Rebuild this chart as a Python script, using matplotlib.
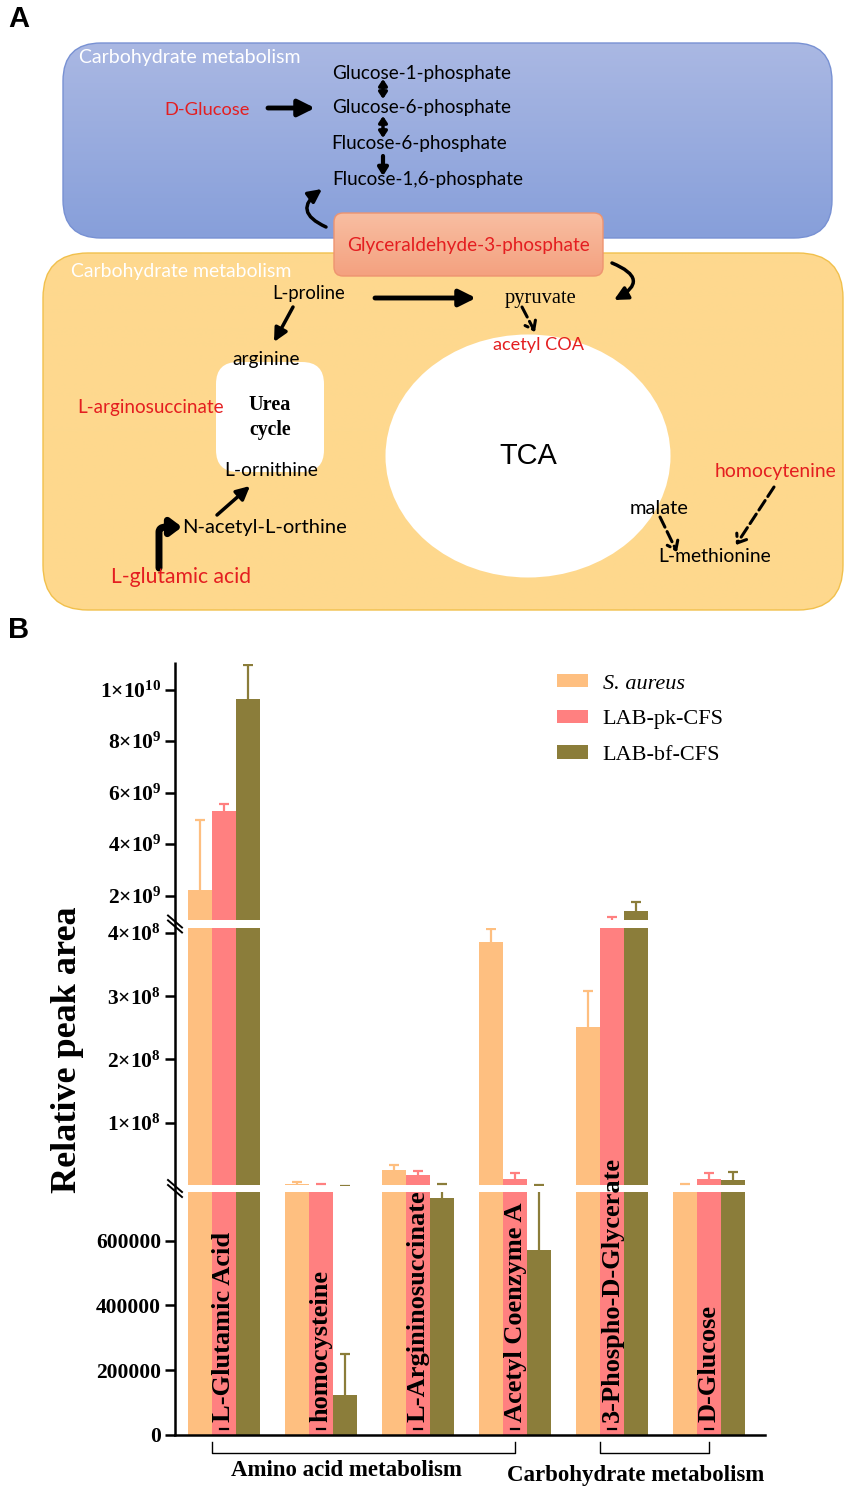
import numpy as np
import matplotlib
matplotlib.use("Agg")
import matplotlib.pyplot as plt
import matplotlib.transforms as mtransforms
from matplotlib.patches import FancyBboxPatch, Ellipse, FancyArrowPatch, Patch
from matplotlib.path import Path
from matplotlib.colors import to_rgb

W, H, DPI = 851, 1493, 100

# === Panel B data ===
categories = ["L-Glutamic Acid", "homocysteine", "L-Argininosuccinate",
              "Acetyl Coenzyme A", "3-Phospho-D-Glycerate", "D-Glucose"]
series_names = ["S. aureus", "LAB-pk-CFS", "LAB-bf-CFS"]
s_aureus = [2.23e9, 3.5e6, 2.43e7, 3.86e8, 2.52e8, 1.2e6]
s_aureus_err = [2.7e9, 2.5e6, 0.8e7, 0.2e8, 0.56e8, 0.9e6]
lab_pk = [5.29e9, 1.0e6, 1.7e7, 1.1e7, 8.0e8, 1.1e7]
lab_pk_err = [0.27e9, 1.2e6, 0.7e7, 1.0e7, 3.5e8, 0.95e7]
lab_bf = [9.65e9, 1.25e5, 7.3e5, 5.7e5, 1.4e9, 9.5e6]
lab_bf_err = [1.33e9, 1.25e5, 1.37e6, 1.5e6, 0.35e9, 1.2e7]

pathways = ["Amino acid metabolism", "Carbohydrate metabolism"]
pathway_first = [0, 4]
pathway_last = [3, 5]

top_ticks = [2e9, 4e9, 6e9, 8e9, 1e10]
top_labels = [r"$\mathbf{2{\times}10^{9}}$", r"$\mathbf{4{\times}10^{9}}$", r"$\mathbf{6{\times}10^{9}}$",
              r"$\mathbf{8{\times}10^{9}}$", r"$\mathbf{1{\times}10^{10}}$"]
mid_ticks = [1e8, 2e8, 3e8, 4e8]
mid_labels = [r"$\mathbf{1{\times}10^{8}}$", r"$\mathbf{2{\times}10^{8}}$",
              r"$\mathbf{3{\times}10^{8}}$", r"$\mathbf{4{\times}10^{8}}$"]
bot_ticks = [0, 200000, 400000, 600000]
bot_labels = ["0", "200000", "400000", "600000"]

colors = ["#FEBF80", "#FF8080", "#8B7D3A"]
series = [s_aureus, lab_pk, lab_bf]
errors = [s_aureus_err, lab_pk_err, lab_bf_err]

SERIF = "Liberation Serif"
SANS = "Lato"
RED = "#E41E20"

plt.rcParams["mathtext.fontset"] = "custom"
plt.rcParams["mathtext.bf"] = "Liberation Serif:bold"
plt.rcParams["mathtext.rm"] = "Liberation Serif:bold"

fig = plt.figure(figsize=(W / DPI, H / DPI), dpi=DPI, facecolor="white")
renderer = fig.canvas.get_renderer()

# === Panel A: pathway sketch, drawn in pixel coordinates ===
axA = fig.add_axes([0, 0, 1, 1], zorder=0)
axA.axis("off")


def box(x0, y0, x1, y1, r, top, bottom, edge, z):
    p = FancyBboxPatch((x0, y0), x1 - x0, y1 - y0,
                       boxstyle=f"round,pad=0,rounding_size={r}",
                       fc="none", ec=edge, lw=1.0, zorder=z + 0.5)
    axA.add_patch(p)
    t = np.linspace(0, 1, 100)[:, None, None]
    img = (1 - t) * np.array(to_rgb(top)) + t * np.array(to_rgb(bottom))
    img = np.repeat(img, 2, axis=1)
    im = axA.imshow(img, extent=(x0, x1, y1, y0), aspect="auto", zorder=z,
                    interpolation="bilinear")
    im.set_clip_path(p)


def fit_text(x0, x1, cy, s, color="black", family=SANS, weight="normal", z=6):
    t = axA.text((x0 + x1) / 2, cy, s, color=color, family=family, weight=weight,
                 fontsize=12, ha="center", va="center", zorder=z)
    w = t.get_window_extent(renderer).width
    t.set_fontsize(12 * (x1 - x0) / w)
    return t


def arrow(p0, p1, lw=2.0, style="-|>,head_length=0.5,head_width=0.25", ms=18, ls="-", rad=None, z=5):
    kw = dict(arrowstyle=style, mutation_scale=ms, lw=lw, color="black",
              linestyle=ls, shrinkA=0, shrinkB=0, zorder=z)
    if rad is not None:
        kw["connectionstyle"] = f"arc3,rad={rad}"
    axA.add_patch(FancyArrowPatch(p0, p1, **kw))


box(63, 43, 832, 238, 38, "#AAB8E3", "#879FDA", "#7891D3", 1)
box(43, 253, 843, 610, 45, "#FED98F", "#FED88D", "#F1C04C", 1)
box(334, 213, 603, 276, 9, "#F8BEA2", "#F4A17F", "#EE9470", 3)
axA.add_patch(FancyBboxPatch((216, 362), 108, 110, boxstyle="round,pad=0,rounding_size=22",
                             fc="white", ec="none", zorder=2))
axA.add_patch(Ellipse((528, 456), 285, 243, fc="white", ec="none", zorder=2))

fit_text(80, 300, 57, "Carbohydrate metabolism", color="white")
fit_text(332, 511, 73, "Glucose-1-phosphate")
fit_text(332, 511, 108, "Glucose-6-phosphate")
fit_text(332, 507, 144, "Flucose-6-phosphate")
fit_text(332, 523, 179, "Flucose-1,6-phosphate")
fit_text(165, 250, 110, "D-Glucose", color=RED)
fit_text(347, 589, 245, "Glyceraldehyde-3-phosphate", color=RED)
fit_text(72, 291, 272, "Carbohydrate metabolism", color="white")
fit_text(272, 345, 294, "L-proline")
fit_text(505, 577, 298, "pyruvate", family=SERIF)
fit_text(493, 584, 345, "acetyl COA", color=RED)
fit_text(233, 300, 359, "arginine")
fit_text(249, 291, 405, "Urea", family=SERIF, weight="bold")
fit_text(249, 291, 430, "cycle", family=SERIF, weight="bold")
fit_text(78, 224, 408, "L-arginosuccinate", color=RED)
fit_text(225, 318, 471, "L-ornithine")
fit_text(499, 557, 456, "TCA", family="Liberation Sans")
fit_text(714, 836, 471, "homocytenine", color=RED)
fit_text(630, 689, 508, "malate")
fit_text(182, 346, 527, "N-acetyl-L-orthine")
fit_text(659, 771, 557, "L-methionine")
fit_text(111, 251, 577, "L-glutamic acid", color=RED)

arrow((268, 108), (315, 108), lw=3.5, ms=20)
arrow((383, 79), (383, 99), lw=2.5, style="<|-|>,head_length=0.3,head_width=0.2", ms=12)
arrow((383, 116), (383, 138), lw=2.5, style="<|-|>,head_length=0.3,head_width=0.2", ms=12)
arrow((383, 156), (383, 176), lw=3.0, style="-|>,head_length=0.35,head_width=0.22", ms=13)
arrow((326, 227), (322, 189), lw=2.5, rad=-0.85, ms=16)
arrow((612, 263), (614, 300), lw=2.5, rad=-1.05, ms=16)
arrow((375, 298), (476, 298), lw=3.5, ms=20)
arrow((293, 307), (274, 342), lw=2.5, ms=16)
arrow((522, 307), (535, 332), lw=2.2, ls="--", style="->,head_length=0.4,head_width=0.3", ms=14)
arrow((217, 515), (250, 486), lw=2.5, ms=16)
arrow((660, 517), (677, 552), lw=2.2, ls="--", style="->,head_length=0.4,head_width=0.3", ms=14)
arrow((774, 487), (736, 545), lw=2.2, ls="--", style="->,head_length=0.4,head_width=0.3", ms=14)
bent = Path([(159, 568), (159, 532), (159, 527), (166, 527), (182, 527)],
            [Path.MOVETO, Path.LINETO, Path.CURVE3, Path.CURVE3, Path.LINETO])
axA.add_patch(FancyArrowPatch(path=bent, arrowstyle="-|>,head_length=0.4,head_width=0.3",
                              mutation_scale=16, lw=5, color="black", zorder=5))

axA.text(8, 19, "A", family="Liberation Sans", weight="bold", fontsize=21, ha="left", va="center")
axA.text(8, 630, "B", family="Liberation Sans", weight="bold", fontsize=21, ha="left", va="center")

# === Panel B: broken-axis bar chart ===
L, R = 175, 765
seg_specs = [(664, 920, (1.05e9, 1.1e10), top_ticks, top_labels),
             (928, 1185, (1.3e6, 4.08e8), mid_ticks, mid_labels),
             (1192, 1435, (0, 7.5e5), bot_ticks, bot_labels)]
x = np.arange(len(categories))
offsets = [-0.25, 0.0, 0.25]
seg_axes = []
for top, bot, lim, ticks, labels in seg_specs:
    ax = fig.add_axes([L / W, 1 - bot / H, (R - L) / W, (bot - top) / H], zorder=2)
    ax.patch.set_alpha(0)
    for k in range(3):
        vals = np.array(series[k])
        ups = vals + np.array(errors[k])
        ax.bar(x + offsets[k], vals, width=0.25, color=colors[k], zorder=2)
        ax.vlines(x + offsets[k], vals, ups, color=colors[k], lw=1.6, zorder=1)
        ax.plot(x + offsets[k], ups, ls="none", marker="_", ms=7.6, mew=1.6,
                color=colors[k], zorder=1)
    ax.set_xlim(-0.505, 5.577)
    ax.set_ylim(*lim)
    ax.set_yticks(ticks, labels)
    ax.set_xticks([])
    for s in ["top", "right", "left"]:
        ax.spines[s].set_visible(False)
    ax.tick_params(axis="y", direction="out", length=7, width=1.8, pad=3, labelsize=15.5)
    for t in ax.get_yticklabels():
        t.set_family(SERIF)
        t.set_fontweight("bold")
    seg_axes.append(ax)

ax_top, ax_mid, ax_bot = seg_axes
for ax in (ax_top, ax_mid):
    ax.spines["bottom"].set_visible(False)
ax_bot.spines["bottom"].set_linewidth(1.8)
ax_bot.set_zorder(3)

# continuous y-axis line with break marks
axA.plot([L, L], [662, 1436], color="black", lw=1.8, zorder=7, solid_capstyle="butt")
for gy in [924, 1188.5]:
    for dy in (-2.5, 2.5):
        axA.plot([L - 7, L + 7], [gy + dy - 6, gy + dy + 6], color="black", lw=1.4, zorder=7)

# category labels inside bars + small markers
bt = mtransforms.blended_transform_factory(ax_bot.transData, ax_bot.transAxes)
for i, cat in enumerate(categories):
    ax_bot.text(i, 0.052, cat, rotation=90, ha="center", va="bottom", transform=bt,
                family=SERIF, fontweight="bold", fontsize=19, clip_on=False, zorder=10)
    ax_bot.plot([i - 0.045, i + 0.045], [0.026, 0.026], transform=bt, color="black",
                lw=1.6, clip_on=False, zorder=10)

# pathway brackets
label_x = [1.26, 4.24]
label_y = [-0.148, -0.165]
for name, a, b, lx, ly in zip(pathways, pathway_first, pathway_last, label_x, label_y):
    ax_bot.plot([a - 0.125, a - 0.125, b, b], [-0.03, -0.074, -0.074, -0.03], transform=bt,
                color="black", lw=1.0, clip_on=False)
    ax_bot.text(lx, ly, name, transform=bt, ha="center", va="center", family=SERIF,
                fontweight="bold", fontsize=16.5, clip_on=False)

fig.text(67 / W, 1 - 1050 / H, "Relative peak area", rotation=90, ha="center", va="center",
         family=SERIF, fontweight="bold", fontsize=26)

handles = [Patch(facecolor=c, edgecolor="none") for c in colors]
leg = fig.legend(handles, series_names, loc="upper left", bbox_to_anchor=(557 / W, 1 - 674 / H),
                 frameon=False, prop={"family": SERIF, "size": 16}, handlelength=1.4,
                 handleheight=0.55, handletextpad=0.65, labelspacing=0.72, borderpad=0,
                 borderaxespad=0)
leg.get_texts()[0].set_style("italic")

axA.set_xlim(0, W)
axA.set_ylim(H, 0)

fig.savefig("out.png", dpi=DPI, facecolor="white")
